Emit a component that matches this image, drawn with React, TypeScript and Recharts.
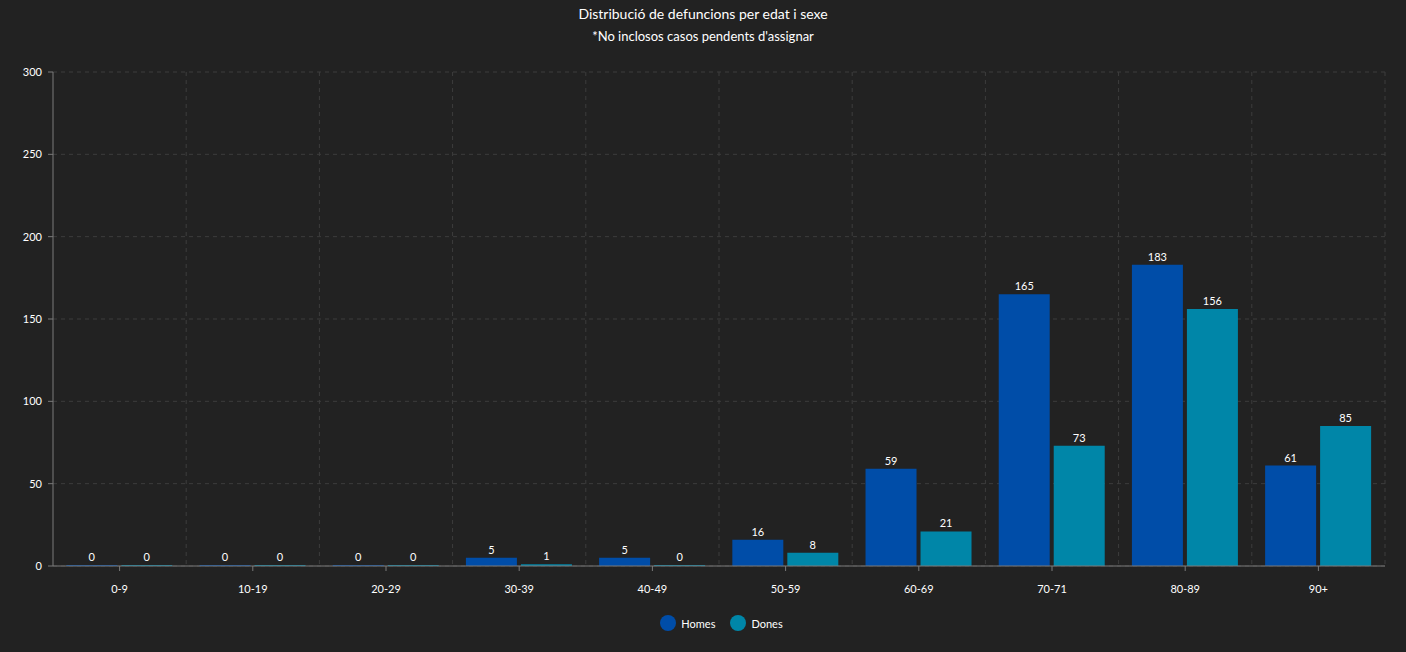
import { BarChart, Bar, XAxis, YAxis, CartesianGrid, Legend, LabelList } from "recharts";

// Age groups and deaths per sex
const AGE_GROUPS = ["0-9", "10-19", "20-29", "30-39", "40-49", "50-59", "60-69", "70-71", "80-89", "90+"];
const HOMES = [0, 0, 0, 5, 5, 16, 59, 165, 183, 61];
const DONES = [0, 0, 0, 1, 0, 8, 21, 73, 156, 85];
const Y_TICKS = [0, 50, 100, 150, 200, 250, 300];

const SERIES = [
  { key: "homes", name: "Homes", color: "#004DA8" },
  { key: "dones", name: "Dones", color: "#0086A8" },
];

const data = AGE_GROUPS.map((age, i) => ({ age, homes: HOMES[i], dones: DONES[i] }));

const FONT = "Lato, 'Open Sans', sans-serif";
const GRID = "#3d3d3d";
const AXIS = "#7a7a7a";

// legend sits a little right of the page centre
const LegendContent = () => (
  <div
    style={{
      display: "flex",
      justifyContent: "center",
      alignItems: "center",
      gap: 15,
      height: 46,
      paddingTop: 8,
      paddingLeft: 58,
      boxSizing: "border-box",
      fontFamily: FONT,
      fontSize: 11,
      color: "#fff",
    }}
  >
    {SERIES.map((s) => (
      <div key={s.key} style={{ display: "flex", alignItems: "center", gap: 5 }}>
        <div style={{ width: 16, height: 16, borderRadius: "50%", background: s.color }} />
        <span>{s.name}</span>
      </div>
    ))}
  </div>
);

export default function App() {
  return (
    <div style={{ position: "absolute", left: 0, top: 0, width: 1406, height: 652, background: "#222222", fontFamily: FONT }}>
      <div style={{ position: "absolute", top: 5, width: "100%", textAlign: "center", color: "#fff", fontSize: 14 }}>
        Distribució de defuncions per edat i sexe
      </div>
      <div style={{ position: "absolute", top: 28, width: "100%", textAlign: "center", color: "#fff", fontSize: 13 }}>
        *No inclosos casos pendents d'assignar
      </div>
      <BarChart
        width={1406}
        height={652}
        data={data}
        margin={{ top: 72, right: 21, left: 0, bottom: 10 }}
        barCategoryGap="10%"
        barGap={4}
      >
        <CartesianGrid
          stroke={GRID}
          strokeDasharray="4 4"
          verticalCoordinatesGenerator={({ offset }: any) =>
            AGE_GROUPS.map((_, i) => offset.left + ((i + 1) * offset.width) / AGE_GROUPS.length)
          }
        />
        <XAxis
          dataKey="age"
          height={30}
          stroke={AXIS}
          tickSize={5}
          tickMargin={14}
          tick={{ fill: "#fff", fontSize: 11, fontFamily: FONT }}
        />
        <YAxis
          width={53}
          domain={[0, 300]}
          ticks={Y_TICKS}
          stroke={AXIS}
          tickSize={5}
          tickMargin={6}
          tick={{ fill: "#fff", fontSize: 11, fontFamily: FONT }}
        />
        <Legend verticalAlign="bottom" height={46} content={LegendContent} />
        {SERIES.map((s) => (
          <Bar key={s.key} dataKey={s.key} name={s.name} fill={s.color} minPointSize={1} isAnimationActive={false}>
            <LabelList dataKey={s.key} position="top" offset={4} fill="#fff" fontSize={11} fontFamily={FONT} />
          </Bar>
        ))}
      </BarChart>
    </div>
  );
}
